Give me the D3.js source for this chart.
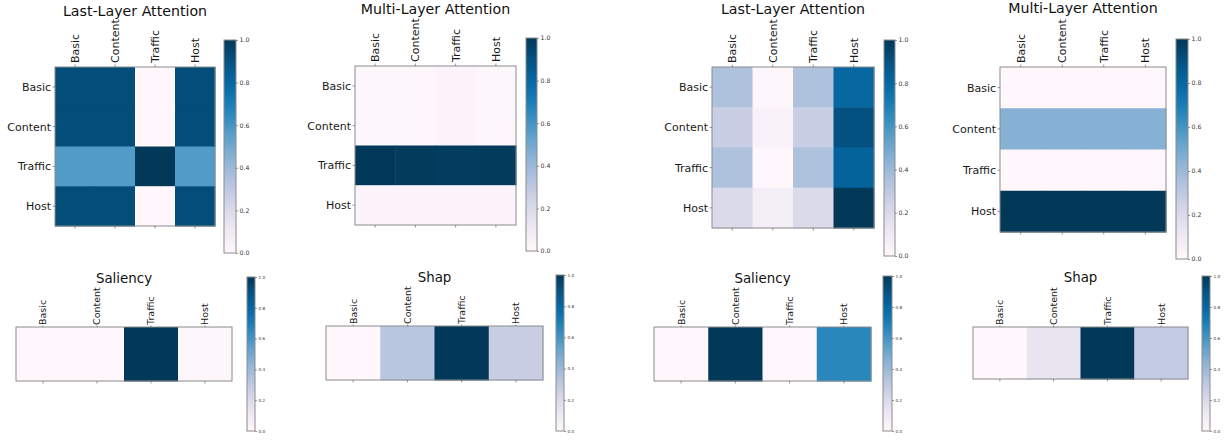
<!DOCTYPE html>
<html>
<head>
<meta charset="utf-8">
<script src="https://cdn.jsdelivr.net/npm/d3@7"></script>
<style>
  html, body { margin: 0; padding: 0; background: #fff; }
  svg { display: block; font-family: "DejaVu Sans", sans-serif; }
</style>
</head>
<body>
<svg id="chart" width="1224" height="440"></svg>
<script>
// Feature groups used on both axes
const features = ["Basic", "Content", "Traffic", "Host"];
const cbarTicks = [0, 0.2, 0.4, 0.6, 0.8, 1.0];

// Model A: attention matrices (rows = query feature, cols = key feature)
const lastLayerA = [
  [0.92, 0.92, 0.00, 0.92],
  [0.92, 0.92, 0.00, 0.92],
  [0.57, 0.57, 1.00, 0.57],
  [0.92, 0.92, 0.00, 0.92]
];
const multiLayerA = [
  [0.01, 0.01, 0.02, 0.01],
  [0.01, 0.01, 0.02, 0.01],
  [1.00, 0.99, 0.98, 0.99],
  [0.02, 0.02, 0.02, 0.02]
];
// Model B: attention matrices
const lastLayerB = [
  [0.35, 0.01, 0.35, 0.80],
  [0.27, 0.04, 0.27, 0.90],
  [0.35, 0.00, 0.35, 0.82],
  [0.20, 0.07, 0.20, 1.00]
];
const multiLayerB = [
  [0.00, 0.00, 0.00, 0.00],
  [0.45, 0.45, 0.45, 0.45],
  [0.00, 0.00, 0.00, 0.00],
  [1.00, 1.00, 1.00, 1.00]
];
// Feature attributions (single row)
const saliencyA = [0.00, 0.00, 1.00, 0.01];
const shapA     = [0.00, 0.32, 1.00, 0.27];
const saliencyB = [0.00, 1.00, 0.00, 0.66];
const shapB     = [0.00, 0.14, 1.00, 0.29];

const titles = ["Last-Layer Attention", "Multi-Layer Attention", "Saliency", "Shap"];

// Panel layout: heatmap box, colorbar box, title baseline, font sizes, label gap, tick length
const matrixStyle = { tf: 14.2, lf: 11, rf: 11, cf: 6.2, gap: 4, tick: 2.5 };
const stripStyle  = { tf: 13.4, lf: 9.5, rf: 9.5, cf: 4.2, gap: 2, tick: 1.5 };
const panels = [
  Object.assign({ title: titles[0], rows: features, values: lastLayerA,
    box: [55, 67, 215, 226], cbar: [224, 40, 236, 253], ty: 16 }, matrixStyle),
  Object.assign({ title: titles[1], rows: features, values: multiLayerA,
    box: [355, 66, 516, 225], cbar: [526, 38, 537, 251], ty: 14 }, matrixStyle),
  Object.assign({ title: titles[0], rows: features, values: lastLayerB,
    box: [712, 67, 874, 228], cbar: [884, 40, 895, 256], ty: 14 }, matrixStyle),
  Object.assign({ title: titles[1], rows: features, values: multiLayerB,
    box: [1000, 67, 1166, 232], cbar: [1176, 39, 1188, 259], ty: 13 }, matrixStyle),
  Object.assign({ title: titles[2], rows: null, values: [saliencyA],
    box: [16, 327, 232, 381], cbar: [247, 277, 255, 431], ty: 283 }, stripStyle),
  Object.assign({ title: titles[3], rows: null, values: [shapA],
    box: [326, 326, 543, 380], cbar: [556, 275, 564, 431], ty: 282 }, stripStyle),
  Object.assign({ title: titles[2], rows: null, values: [saliencyB],
    box: [654, 327, 871, 381], cbar: [883, 276, 892, 431], ty: 283 }, stripStyle),
  Object.assign({ title: titles[3], rows: null, values: [shapB],
    box: [973, 327, 1188, 379], cbar: [1202, 276, 1210, 431], ty: 282 }, stripStyle)
];

const svg = d3.select("#chart");
const color = d3.scaleSequential(d3.interpolatePuBu).domain([0, 1]);
const frame = "#8c8c8c";
const ink = "#1a1a1a";

// Shared vertical gradient for the colorbars
const grad = svg.append("defs").append("linearGradient")
  .attr("id", "pubu").attr("x1", 0).attr("y1", 1).attr("x2", 0).attr("y2", 0);
d3.range(0, 1.0001, 0.05).forEach(t => {
  grad.append("stop").attr("offset", t).attr("stop-color", color(t));
});

panels.forEach(p => {
  const [x0, y0, x1, y1] = p.box;
  const g = svg.append("g");
  const nRows = p.values.length;
  const rowKeys = p.rows || d3.range(nRows).map(String);

  const x = d3.scaleBand().domain(features).range([x0, x1]);
  const y = d3.scaleBand().domain(rowKeys).range([y0, y1]);

  // cells
  p.values.forEach((row, i) => {
    g.selectAll(null).data(row).join("rect")
      .attr("x", (d, j) => x(features[j]))
      .attr("y", y(rowKeys[i]))
      .attr("width", x.bandwidth() + 0.5)
      .attr("height", y.bandwidth() + 0.5)
      .attr("fill", d => color(d));
  });

  // frame
  g.append("rect")
    .attr("x", x0).attr("y", y0).attr("width", x1 - x0).attr("height", y1 - y0)
    .attr("fill", "none").attr("stroke", frame).attr("stroke-width", 1);

  // column ticks (top and bottom) and rotated labels
  const tickLen = p.tick;
  features.forEach(f => {
    const cx = x(f) + x.bandwidth() / 2;
    g.append("line").attr("x1", cx).attr("x2", cx).attr("y1", y0).attr("y2", y0 - tickLen)
      .attr("stroke", "#555").attr("stroke-width", 0.6);
    g.append("line").attr("x1", cx).attr("x2", cx).attr("y1", y1).attr("y2", y1 + 2.5)
      .attr("stroke", "#555").attr("stroke-width", 0.6);
    g.append("text")
      .attr("transform", `translate(${cx},${y0 - p.gap}) rotate(-90)`)
      .attr("dy", "0.36em")
      .attr("text-anchor", "start")
      .attr("font-size", p.lf)
      .attr("fill", ink)
      .text(f);
  });

  // row ticks and labels
  if (p.rows) {
    p.rows.forEach(r => {
      const cy = y(r) + y.bandwidth() / 2;
      g.append("line").attr("x1", x0).attr("x2", x0 - tickLen).attr("y1", cy).attr("y2", cy)
        .attr("stroke", "#555").attr("stroke-width", 0.6);
      g.append("text")
        .attr("x", x0 - tickLen - 1.5).attr("y", cy)
        .attr("dy", "0.36em")
        .attr("text-anchor", "end")
        .attr("font-size", p.rf)
        .attr("fill", ink)
        .text(r);
    });
  }

  // title
  g.append("text")
    .attr("x", (x0 + x1) / 2).attr("y", p.ty)
    .attr("text-anchor", "middle")
    .attr("font-size", p.tf)
    .attr("fill", "#111")
    .text(p.title);

  // colorbar
  const [cx0, cy0, cx1, cy1] = p.cbar;
  g.append("rect")
    .attr("x", cx0).attr("y", cy0).attr("width", cx1 - cx0).attr("height", cy1 - cy0)
    .attr("fill", "url(#pubu)").attr("stroke", frame).attr("stroke-width", 1);
  const cs = d3.scaleLinear().domain([0, 1]).range([cy1, cy0]);
  const axis = d3.axisRight(cs).tickValues(cbarTicks).tickFormat(d3.format(".1f"))
    .tickSize(2).tickPadding(1.5);
  const ag = g.append("g").attr("transform", `translate(${cx1},0)`).call(axis);
  ag.select(".domain").remove();
  ag.selectAll(".tick line").attr("stroke", "#555").attr("stroke-width", 0.6);
  ag.selectAll(".tick text").attr("font-size", p.cf).attr("fill", "#333")
    .attr("font-family", "DejaVu Sans, sans-serif");
});
</script>
</body>
</html>
